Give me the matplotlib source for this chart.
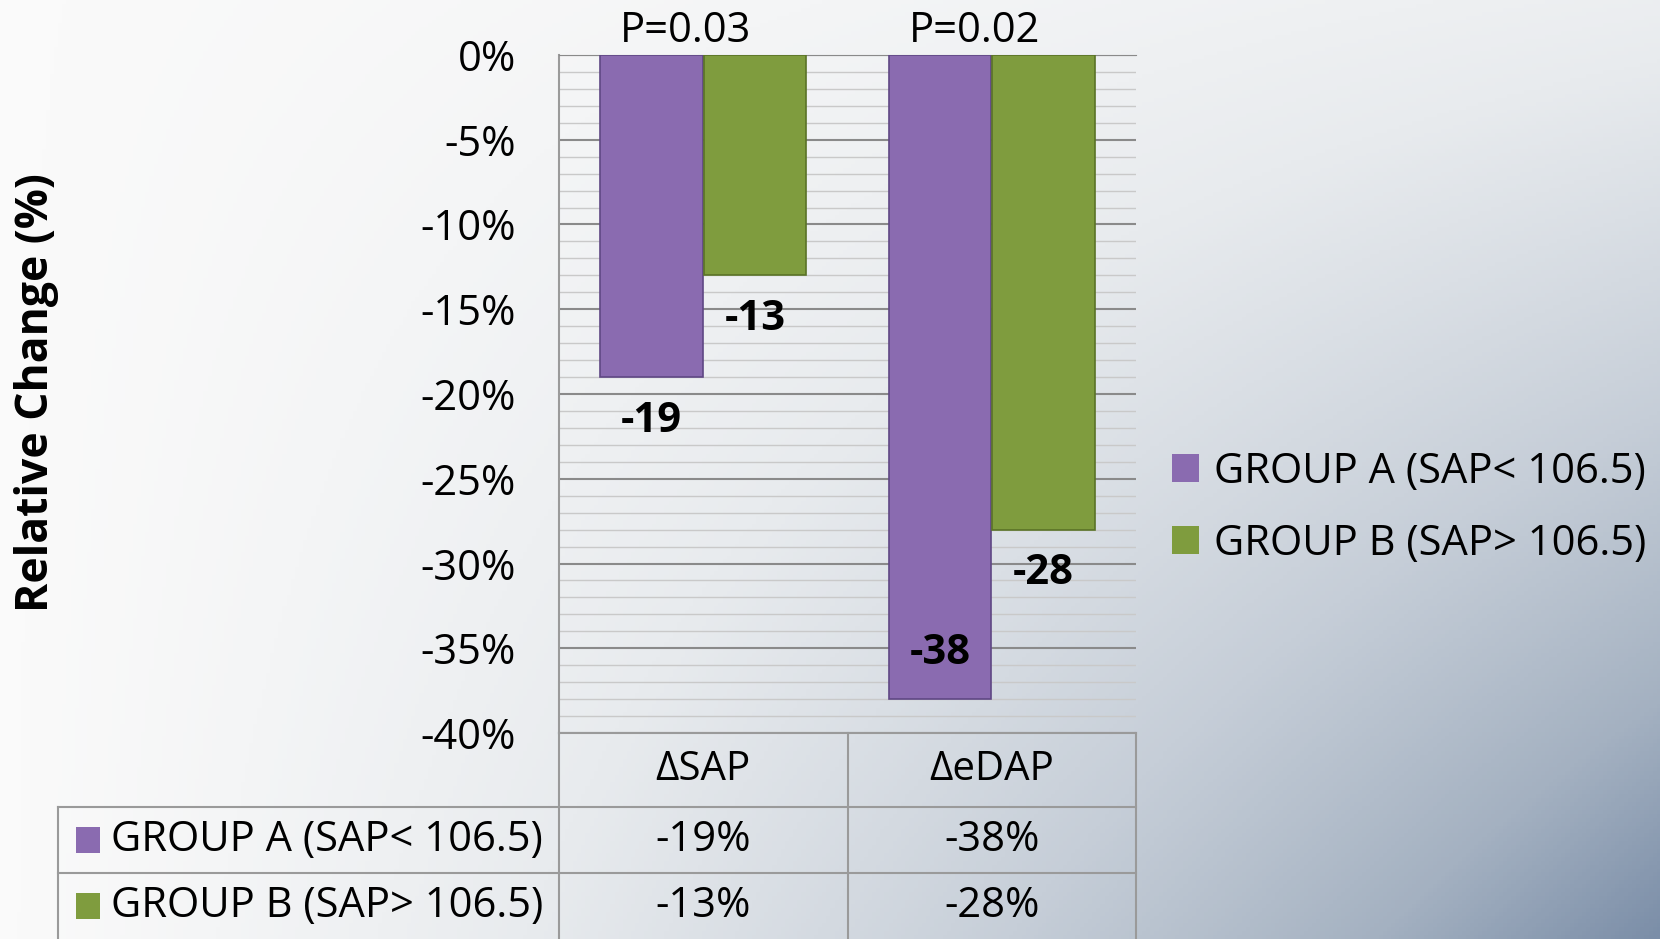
import numpy as np
import matplotlib
matplotlib.use("Agg")
import matplotlib.pyplot as plt
from matplotlib.colors import LinearSegmentedColormap
from matplotlib.patches import Patch, Rectangle
from matplotlib.lines import Line2D
import matplotlib.transforms as mtransforms

plt.rcParams['font.family'] = ['Open Sans', 'DejaVu Sans']

# data
categories = ['\u0394SAP', '\u0394eDAP']
groups = ['GROUP A (SAP< 106.5)', 'GROUP B (SAP> 106.5)']
group_a = [-19, -38]
group_b = [-13, -28]
p_values = ['P=0.03', 'P=0.02']
yticks = [0, -5, -10, -15, -20, -25, -30, -35, -40]

colors = ['#8a6bb0', '#7f9c3e']
edges = ['#5f4784', '#5a7327']

W, H = 1660, 939
fig = plt.figure(figsize=(W / 100, H / 100), dpi=100)

# background gradient (light at left, blue-grey towards bottom right)
bg = fig.add_axes([0, 0, 1, 1], zorder=-5)
u = np.linspace(0, 1, 400)[None, :]
v = np.linspace(0, 1, 240)[:, None]
t = u ** 1.2 * (0.2 + 0.8 * v)
cmap = LinearSegmentedColormap.from_list(
    'bgc', [(0, '#fafafa'), (0.25, '#e8ebee'), (0.55, '#c6ced8'), (0.8, '#a4b1c1'), (1, '#7b8ea8')])
bg.imshow(t, cmap=cmap, vmin=0, vmax=1, aspect='auto', extent=[0, 1, 0, 1], origin='upper')
bg.axis('off')

ax = fig.add_axes([559 / W, 1 - 733 / H, (1136 - 559) / W, (733 - 55) / H])
ax.patch.set_alpha(0)

x = np.arange(len(categories))
width = 0.355
series = [group_a, group_b]
offsets = [-0.18, 0.18]
for vals, off, c, ec, name in zip(series, offsets, colors, edges, groups):
    bars = ax.bar(x + off, vals, width, color=c, edgecolor=ec, linewidth=1.2, zorder=3, label=name)
    for b, val in zip(bars, vals):
        cx = b.get_x() + b.get_width() / 2
        ly = val + 2.7 if val <= -35 else val - 2.6
        ax.text(cx, ly, f'{val}', ha='center', va='center', fontsize=30,
                fontweight='bold', color='black', zorder=5)

ptrans = mtransforms.blended_transform_factory(ax.transData, ax.transAxes)
for i, p in enumerate(p_values):
    ax.annotate(p, (i - 0.06, 1.0), xycoords=ptrans, xytext=(0, 2), textcoords='offset points',
                ha='center', va='bottom', fontsize=30, annotation_clip=False)

ax.set_xlim(-0.5, len(categories) - 0.5)
ax.set_ylim(-40, 0)
ax.set_yticks(yticks)
ax.set_yticklabels([f'{t}%' for t in yticks], fontsize=30)
ax.set_yticks(np.arange(-40, 1, 1), minor=True)
ax.tick_params(axis='y', which='both', length=0, pad=31)
ax.set_xticks([])
ax.grid(axis='y', which='minor', color='#c9c9c9', lw=1, zorder=0)
ax.grid(axis='y', which='major', color='#8a8a8a', lw=1.5, zorder=1)
for s in ['right', 'bottom']:
    ax.spines[s].set_visible(False)
ax.spines['top'].set_color('#8a8a8a')
ax.spines['left'].set_color('#9a9a9a')
ax.spines['left'].set_linewidth(1.5)

fig.text(37 / W, 1 - 393 / H, 'Relative Change (%)', rotation=90, ha='center', va='center',
         fontsize=32, fontweight='bold')

# data table under the axis
bt = mtransforms.blended_transform_factory(ax.transData, fig.transFigure)
ft = fig.transFigure
row_edges = [1 - 733 / H, 1 - 807 / H, 1 - 873 / H, 0.0]
lc = '#9a9a9a'
left_fig = 58 / W
for xb in [-0.5, 0.5, 1.5]:
    fig.add_artist(Line2D([xb, xb], [row_edges[0], row_edges[3]], transform=bt, color=lc, lw=1.5))
fig.add_artist(Line2D([left_fig, left_fig], [row_edges[1], row_edges[3]], transform=ft, color=lc, lw=1.5))
fig.add_artist(Line2D([-0.5, 1.5], [row_edges[0]] * 2, transform=bt, color=lc, lw=1.5))
ax_right = ax.get_position().x1
for ry in row_edges[1:3]:
    fig.add_artist(Line2D([left_fig, ax_right], [ry, ry], transform=ft, color=lc, lw=1.5))

for i, cat in enumerate(categories):
    fig.text(i, (row_edges[0] + row_edges[1]) / 2, cat, transform=bt, ha='center', va='center', fontsize=29)
for r, (vals, name, c) in enumerate(zip(series, groups, colors)):
    ymid = (row_edges[r + 1] + row_edges[r + 2]) / 2
    fig.add_artist(Rectangle((76 / W, ymid - 13 / H), 24 / W, 26 / H, transform=ft,
                             facecolor=c, edgecolor='none'))
    fig.text(111 / W, ymid, name, ha='left', va='center', fontsize=30)
    for i, val in enumerate(vals):
        fig.text(i, ymid, f'{val}%', transform=bt, ha='center', va='center', fontsize=30)

# legend
handles = [Patch(facecolor=c, edgecolor='none') for c in colors]
fig.legend(handles, groups, loc='center left', bbox_to_anchor=(1172 / W, 1 - 508 / H),
           frameon=False, fontsize=30, handlelength=0.65, handleheight=0.65,
           handletextpad=0.35, labelspacing=0.72, borderpad=0, borderaxespad=0)

fig.savefig('out.png', dpi=100)
